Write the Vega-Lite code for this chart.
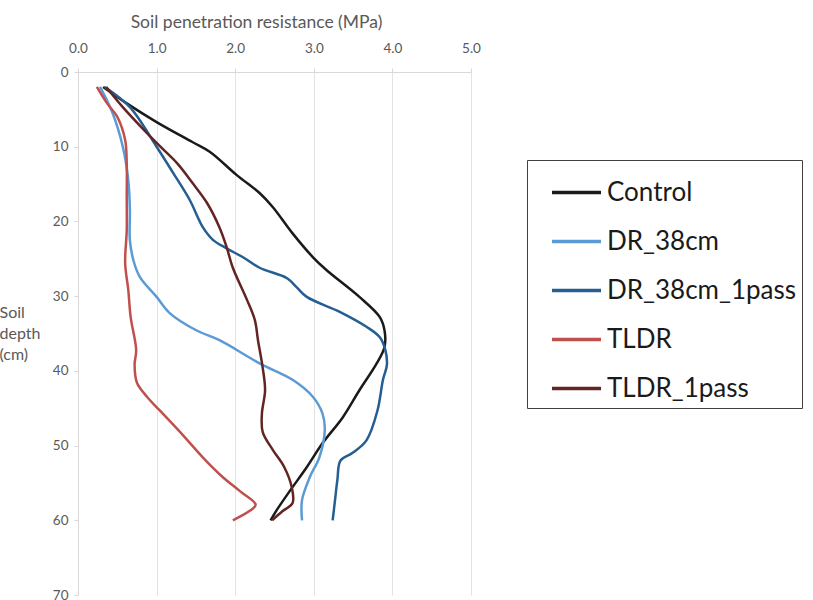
{
  "$schema": "https://vega.github.io/schema/vega-lite/v6.json",
  "autosize": "none",
  "width": 393,
  "height": 523,
  "padding": {"left": 78, "top": 72, "right": 342, "bottom": 5},
  "background": "white",
  "config": {
    "font": "Lato",
    "view": {"stroke": null}
  },
  "data": {
    "values": [
      {"s": "Control", "x": 0.32, "d": 2.0},
      {"s": "Control", "x": 0.62, "d": 4.2},
      {"s": "Control", "x": 1.0, "d": 6.7},
      {"s": "Control", "x": 1.46, "d": 9.4},
      {"s": "Control", "x": 1.68, "d": 10.7},
      {"s": "Control", "x": 2.02, "d": 13.8},
      {"s": "Control", "x": 2.31, "d": 16.2},
      {"s": "Control", "x": 2.48, "d": 18.1},
      {"s": "Control", "x": 2.73, "d": 21.6},
      {"s": "Control", "x": 2.99, "d": 24.8},
      {"s": "Control", "x": 3.16, "d": 26.5},
      {"s": "Control", "x": 3.58, "d": 30.1},
      {"s": "Control", "x": 3.84, "d": 32.8},
      {"s": "Control", "x": 3.9, "d": 34.6},
      {"s": "Control", "x": 3.9, "d": 36.8},
      {"s": "Control", "x": 3.8, "d": 39.0},
      {"s": "Control", "x": 3.58, "d": 42.6},
      {"s": "Control", "x": 3.37, "d": 46.2},
      {"s": "Control", "x": 3.11, "d": 49.7},
      {"s": "Control", "x": 2.91, "d": 52.9},
      {"s": "Control", "x": 2.7, "d": 56.0},
      {"s": "Control", "x": 2.53, "d": 58.6},
      {"s": "Control", "x": 2.45, "d": 60.0},

      {"s": "DR_38cm", "x": 0.28, "d": 2.0},
      {"s": "DR_38cm", "x": 0.44, "d": 5.5},
      {"s": "DR_38cm", "x": 0.57, "d": 10.0},
      {"s": "DR_38cm", "x": 0.64, "d": 14.5},
      {"s": "DR_38cm", "x": 0.66, "d": 18.5},
      {"s": "DR_38cm", "x": 0.66, "d": 22.5},
      {"s": "DR_38cm", "x": 0.71, "d": 25.4},
      {"s": "DR_38cm", "x": 0.79, "d": 27.5},
      {"s": "DR_38cm", "x": 1.0, "d": 30.1},
      {"s": "DR_38cm", "x": 1.17, "d": 32.3},
      {"s": "DR_38cm", "x": 1.51, "d": 34.6},
      {"s": "DR_38cm", "x": 1.8, "d": 35.9},
      {"s": "DR_38cm", "x": 2.31, "d": 39.0},
      {"s": "DR_38cm", "x": 2.73, "d": 41.2},
      {"s": "DR_38cm", "x": 2.99, "d": 43.5},
      {"s": "DR_38cm", "x": 3.11, "d": 45.7},
      {"s": "DR_38cm", "x": 3.14, "d": 47.9},
      {"s": "DR_38cm", "x": 3.07, "d": 51.6},
      {"s": "DR_38cm", "x": 2.95, "d": 54.2},
      {"s": "DR_38cm", "x": 2.85, "d": 57.3},
      {"s": "DR_38cm", "x": 2.85, "d": 60.0},

      {"s": "DR_38cm_1pass", "x": 0.34, "d": 2.0},
      {"s": "DR_38cm_1pass", "x": 0.66, "d": 4.7},
      {"s": "DR_38cm_1pass", "x": 1.0, "d": 10.0},
      {"s": "DR_38cm_1pass", "x": 1.21, "d": 13.5},
      {"s": "DR_38cm_1pass", "x": 1.42, "d": 17.1},
      {"s": "DR_38cm_1pass", "x": 1.59, "d": 20.8},
      {"s": "DR_38cm_1pass", "x": 1.72, "d": 22.5},
      {"s": "DR_38cm_1pass", "x": 1.89, "d": 23.6},
      {"s": "DR_38cm_1pass", "x": 2.1, "d": 24.8},
      {"s": "DR_38cm_1pass", "x": 2.31, "d": 26.2},
      {"s": "DR_38cm_1pass", "x": 2.66, "d": 27.6},
      {"s": "DR_38cm_1pass", "x": 2.78, "d": 28.8},
      {"s": "DR_38cm_1pass", "x": 2.91, "d": 30.1},
      {"s": "DR_38cm_1pass", "x": 3.33, "d": 32.1},
      {"s": "DR_38cm_1pass", "x": 3.67, "d": 34.1},
      {"s": "DR_38cm_1pass", "x": 3.84, "d": 35.5},
      {"s": "DR_38cm_1pass", "x": 3.91, "d": 37.2},
      {"s": "DR_38cm_1pass", "x": 3.93, "d": 39.2},
      {"s": "DR_38cm_1pass", "x": 3.88, "d": 41.2},
      {"s": "DR_38cm_1pass", "x": 3.81, "d": 45.3},
      {"s": "DR_38cm_1pass", "x": 3.67, "d": 49.3},
      {"s": "DR_38cm_1pass", "x": 3.49, "d": 51.0},
      {"s": "DR_38cm_1pass", "x": 3.34, "d": 52.0},
      {"s": "DR_38cm_1pass", "x": 3.3, "d": 54.6},
      {"s": "DR_38cm_1pass", "x": 3.27, "d": 57.3},
      {"s": "DR_38cm_1pass", "x": 3.24, "d": 60.0},

      {"s": "TLDR", "x": 0.24, "d": 2.0},
      {"s": "TLDR", "x": 0.37, "d": 4.2},
      {"s": "TLDR", "x": 0.5, "d": 6.0},
      {"s": "TLDR", "x": 0.6, "d": 9.1},
      {"s": "TLDR", "x": 0.62, "d": 12.2},
      {"s": "TLDR", "x": 0.62, "d": 16.7},
      {"s": "TLDR", "x": 0.62, "d": 21.2},
      {"s": "TLDR", "x": 0.6, "d": 25.6},
      {"s": "TLDR", "x": 0.64, "d": 29.2},
      {"s": "TLDR", "x": 0.67, "d": 32.8},
      {"s": "TLDR", "x": 0.74, "d": 37.2},
      {"s": "TLDR", "x": 0.72, "d": 39.2},
      {"s": "TLDR", "x": 0.75, "d": 41.6},
      {"s": "TLDR", "x": 0.88, "d": 43.5},
      {"s": "TLDR", "x": 1.04, "d": 45.3},
      {"s": "TLDR", "x": 1.3, "d": 48.2},
      {"s": "TLDR", "x": 1.59, "d": 51.6},
      {"s": "TLDR", "x": 1.84, "d": 54.2},
      {"s": "TLDR", "x": 2.06, "d": 56.1},
      {"s": "TLDR", "x": 2.26, "d": 57.9},
      {"s": "TLDR", "x": 2.19, "d": 58.7},
      {"s": "TLDR", "x": 1.97, "d": 60.0},

      {"s": "TLDR_1pass", "x": 0.36, "d": 2.0},
      {"s": "TLDR_1pass", "x": 0.57, "d": 4.7},
      {"s": "TLDR_1pass", "x": 1.0, "d": 9.5},
      {"s": "TLDR_1pass", "x": 1.26, "d": 12.2},
      {"s": "TLDR_1pass", "x": 1.46, "d": 14.9},
      {"s": "TLDR_1pass", "x": 1.64, "d": 17.5},
      {"s": "TLDR_1pass", "x": 1.8, "d": 20.8},
      {"s": "TLDR_1pass", "x": 1.89, "d": 23.4},
      {"s": "TLDR_1pass", "x": 1.97, "d": 26.2},
      {"s": "TLDR_1pass", "x": 2.15, "d": 30.5},
      {"s": "TLDR_1pass", "x": 2.25, "d": 33.2},
      {"s": "TLDR_1pass", "x": 2.29, "d": 35.9},
      {"s": "TLDR_1pass", "x": 2.35, "d": 39.6},
      {"s": "TLDR_1pass", "x": 2.38, "d": 42.6},
      {"s": "TLDR_1pass", "x": 2.34, "d": 45.7},
      {"s": "TLDR_1pass", "x": 2.35, "d": 48.2},
      {"s": "TLDR_1pass", "x": 2.48, "d": 50.6},
      {"s": "TLDR_1pass", "x": 2.62, "d": 52.8},
      {"s": "TLDR_1pass", "x": 2.72, "d": 55.6},
      {"s": "TLDR_1pass", "x": 2.73, "d": 57.7},
      {"s": "TLDR_1pass", "x": 2.6, "d": 58.8},
      {"s": "TLDR_1pass", "x": 2.47, "d": 60.0}
    ]
  },
  "mark": {"type": "line", "interpolate": "catmull-rom", "strokeWidth": 2.5, "clip": false},
  "encoding": {
    "x": {
      "field": "x",
      "type": "quantitative",
      "scale": {"domain": [0, 5], "nice": false, "zero": false},
      "axis": {
        "orient": "top",
        "title": "Soil penetration resistance (MPa)",
        "values": [0, 1, 2, 3, 4, 5],
        "format": ".1f",
        "labelFlush": false,
        "grid": true,
        "gridColor": "#e3e3e3",
        "domainColor": "#d9d9d9",
        "tickColor": "#d9d9d9",
        "tickSize": 4,
        "labelColor": "#595959",
        "labelFontSize": 13.5,
        "labelPadding": 13,
        "titleColor": "#595959",
        "titleFontSize": 17.5,
        "titleFontWeight": "normal",
        "titlePadding": 10,
        "titleX": 178,
        "titleAlign": "center"
      }
    },
    "y": {
      "field": "d",
      "type": "quantitative",
      "scale": {"domain": [0, 70], "reverse": true, "nice": false, "zero": false},
      "axis": {
        "values": [0, 10, 20, 30, 40, 50, 60, 70],
        "grid": false,
        "domainColor": "#d9d9d9",
        "tickColor": "#d9d9d9",
        "tickSize": 4,
        "labelColor": "#595959",
        "labelFontSize": 13.5,
        "labelPadding": 6,
        "title": ["Soil", "depth", "(cm)"],
        "titleAngle": 0,
        "titleAlign": "left",
        "titleBaseline": "top",
        "titleX": -79,
        "titleY": 232,
        "titleLineHeight": 21,
        "titleColor": "#595959",
        "titleFontSize": 16,
        "titleFontWeight": "normal"
      }
    },
    "color": {
      "field": "s",
      "type": "nominal",
      "scale": {
        "domain": ["Control", "DR_38cm", "DR_38cm_1pass", "TLDR", "TLDR_1pass"],
        "range": ["#1a1a1a", "#5b9bd5", "#255e91", "#c0504d", "#632523"]
      },
      "legend": {
        "orient": "none",
        "legendX": 449,
        "legendY": 88,
        "title": null,
        "symbolType": "stroke",
        "symbolSize": 2401,
        "symbolStrokeWidth": 3.5,
        "symbolOffset": 17,
        "labelFontSize": 26,
        "labelLimit": 400,
        "labelColor": "#1a1a1a",
        "labelOffset": 4,
        "rowPadding": 9,
        "padding": 6,
        "strokeColor": "#404040",
        "fillColor": "white"
      }
    },
    "order": {"field": "d", "type": "quantitative"}
  }
}
